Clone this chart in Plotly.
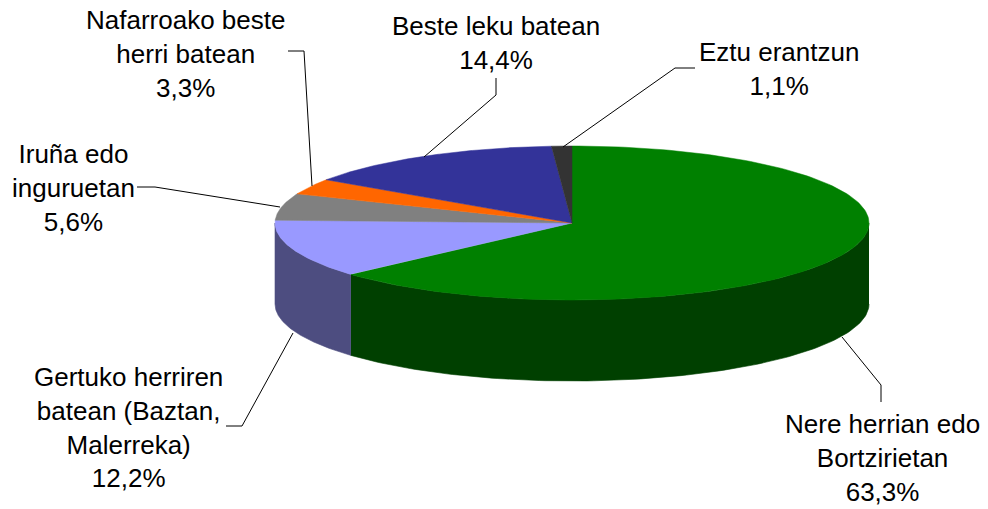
import numpy as np
import plotly.graph_objects as go

categories = ["Nere herrian edo<br>Bortzirietan", "Gertuko herriren<br>batean (Baztan,<br>Malerreka)",
              "Iruña edo<br>inguruetan", "Nafarroako beste<br>herri batean", "Beste leku batean", "Eztu erantzun"]
values = [63.3, 12.2, 5.6, 3.3, 14.4, 1.1]
top_colors = ["#008000", "#9999FF", "#808080", "#FF6600", "#333399", "#333333"]
side_colors = ["#004000", "#4D4D80", "#404040", "#803300", "#1A1A4D", "#1A1A1A"]

CX, CY, RX, RY, DEPTH = 572, 223, 297, 77, 81
label_pos = [(882, 458), (128, 427), (73, 188), (185, 54), (496, 43), (779, 69)]
leaders = [
    [(881, 402), (881, 385), (842, 337)],
    [(226, 426), (242, 426), (293, 333)],
    [(137, 187), (155, 187), (280, 207)],
    [(288, 51), (304, 51), (312, 186)],
    [(496, 78), (496, 95), (424, 157)],
    [(695, 68), (675, 68), (563, 147)],
]

def ex(t):
    return CX + RX * np.sin(np.radians(t))

def ey(t):
    return CY - RY * np.cos(np.radians(t))

fig = go.Figure()
total = sum(values)
edges = np.concatenate([[0], np.cumsum(values) / total * 360])

# outer walls: only the front half (90..270 deg clockwise from 12 o'clock) is visible
for i in range(len(values)):
    a, b = max(edges[i], 90), min(edges[i + 1], 270)
    if b <= a:
        continue
    t = np.linspace(a, b, 120)
    xs = np.concatenate([ex(t), ex(t[::-1])])
    ys = np.concatenate([ey(t), ey(t[::-1]) + DEPTH])
    fig.add_trace(go.Scatter(x=xs, y=ys, mode="lines", fill="toself", fillcolor=side_colors[i],
                             line=dict(width=0.6, color=side_colors[i]), hoverinfo="skip"))

# top faces
for i in range(len(values)):
    t = np.linspace(edges[i], edges[i + 1], 180)
    xs = np.concatenate([[CX], ex(t), [CX]])
    ys = np.concatenate([[CY], ey(t), [CY]])
    fig.add_trace(go.Scatter(x=xs, y=ys, mode="lines", fill="toself", fillcolor=top_colors[i],
                             line=dict(width=0.5, color=top_colors[i]), hoverinfo="skip"))

# leader lines
for pts in leaders:
    fig.add_trace(go.Scatter(x=[p[0] for p in pts], y=[p[1] for p in pts], mode="lines",
                             line=dict(color="#000000", width=1), hoverinfo="skip"))

for name, v, (x, y) in zip(categories, values, label_pos):
    txt = f"{name}<br>{v:.1f}%".replace(".", ",")
    fig.add_annotation(x=x, y=y, text=txt, showarrow=False, xanchor="center", yanchor="middle",
                       align="center", font=dict(family="Liberation Sans", size=26, color="#000000"))

# the page keeps its 8px body margin, so the plot area covers pixels 8..988 and 8..509
fig.update_layout(
    width=980, height=501, margin=dict(l=0, r=0, t=0, b=0), showlegend=False,
    paper_bgcolor="white", plot_bgcolor="white",
    xaxis=dict(range=[8, 988], visible=False, fixedrange=True),
    yaxis=dict(range=[509, 8], visible=False, fixedrange=True),
)
fig.write_html("out.html", config={"displayModeBar": False})
